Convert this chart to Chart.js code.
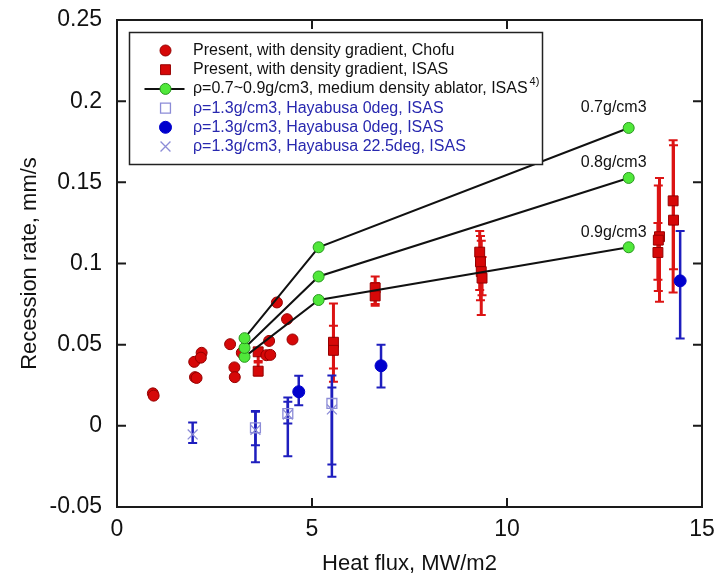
<!DOCTYPE html>
<html>
<head>
<meta charset="utf-8">
<script src="https://cdn.jsdelivr.net/npm/chart.js@4.4.1/dist/chart.umd.min.js"></script>
<style>
  html, body { margin: 0; padding: 0; background: #fff; }
  #wrap { width: 714px; height: 577px; position: relative; }
</style>
</head>
<body>
<div id="wrap"><canvas id="chart"></canvas></div>
<script>
// axis ticks
const xTicks = [0, 5, 10, 15];
const xTickLabels = ['0', '5', '10', '15'];
const yTicks = [-0.05, 0, 0.05, 0.1, 0.15, 0.2, 0.25];
const yTickLabels = ['-0.05', '0', '0.05', '0.1', '0.15', '0.2', '0.25'];

// Present, Chofu (red circles)
const chofuX = [0.92, 0.94, 1.98, 2.17, 2.15, 2.0, 2.04, 2.9, 3.01, 3.02, 3.2, 4.10, 4.36, 3.9, 3.83, 3.93, 4.5];
const chofuY = [0.020, 0.0186, 0.0394, 0.045, 0.042, 0.030, 0.0295, 0.0503, 0.036, 0.030, 0.045, 0.076, 0.0657, 0.0523, 0.0435, 0.0437, 0.0532];

// Present, ISAS (red squares + error bars)
const isasX = [3.62, 3.62, 5.55, 5.55, 6.62, 6.62, 9.30, 9.32, 9.34, 9.36, 13.91, 13.88, 13.87, 14.26, 14.27];
const isasY = [0.0456, 0.0337, 0.0515, 0.0465, 0.085, 0.080, 0.107, 0.101, 0.095, 0.091, 0.1165, 0.1144, 0.1068, 0.1386, 0.1267];
const isasLo = [0.040, 0.031, 0.0271, 0.0353, 0.075, 0.074, 0.0836, 0.0774, 0.0682, 0.0805, 0.0764, 0.083, 0.090, 0.0821, 0.0965];
const isasHi = [0.048, 0.039, 0.0754, 0.0616, 0.092, 0.088, 0.120, 0.117, 0.114, 0.104, 0.1527, 0.148, 0.125, 0.176, 0.1728];

// medium density ablator (green, connected)
const medX = [3.27, 5.17, 13.12];
const med07 = [0.054, 0.110, 0.1835];
const med08 = [0.048, 0.092, 0.1527];
const med09 = [0.0425, 0.0775, 0.110];
const densityNames = ['0.7g/cm3', '0.8g/cm3', '0.9g/cm3'];

// Hayabusa 0deg open squares
const hayaSqX = [3.55, 4.38, 5.51];
const hayaSqY = [-0.0012, 0.0076, 0.0138];
const hayaSqLo = [-0.0225, -0.0187, -0.0314];
const hayaSqHi = [0.0092, 0.0175, 0.031];

// Hayabusa 0deg filled circles
const hayaDotX = [4.66, 6.77, 14.44];
const hayaDotY = [0.021, 0.037, 0.0893];
const hayaDotLo = [0.0127, 0.0236, 0.0538];
const hayaDotHi = [0.0308, 0.050, 0.120];

// Hayabusa 22.5deg crosses
const hayaCrX = [1.94, 3.55, 4.38, 5.51];
const hayaCrY = [-0.0053, -0.0025, 0.0070, 0.0101];
const hayaCrLo = [-0.0105, -0.012, 0.0015, -0.0238];
const hayaCrHi = [0.002, 0.0087, 0.0148, 0.0236];

const pts = (xs, ys) => xs.map((v, i) => ({ x: v, y: ys[i] }));

const RED = 'rgb(214,8,8)';
const RED_EDGE = 'rgb(150,0,0)';
const GREEN = 'rgb(80,232,58)';
const GREEN_EDGE = 'rgb(40,150,30)';
const LAV = 'rgb(140,140,215)';
const BLUE = 'rgb(0,0,205)';
const BAR_BLUE = 'rgb(30,30,190)';
const TEXT_BLUE = 'rgb(40,40,175)';
const FONT = "'Liberation Sans', Arial, sans-serif";

Chart.defaults.font.family = FONT;

const datasets = [
  { label: 'Present, with density gradient, Chofu', data: pts(chofuX, chofuY),
    pointStyle: 'circle', pointRadius: 5.5, backgroundColor: RED, borderColor: RED_EDGE, borderWidth: 1,
    order: 3, legendRow: 0 },
  { label: 'Present, with density gradient, ISAS', data: pts(isasX, isasY),
    pointStyle: 'rect', pointRadius: 7, backgroundColor: RED, borderColor: RED_EDGE, borderWidth: 1,
    order: 3, legendRow: 1, errLo: isasLo, errHi: isasHi, errColor: 'rgb(220,20,20)', errWidth: 3 },
  { label: 'ρ=1.3g/cm3, Hayabusa 0deg, ISAS', data: pts(hayaSqX, hayaSqY),
    pointStyle: 'rect', pointRadius: 7, backgroundColor: 'rgba(0,0,0,0)', borderColor: LAV, borderWidth: 1.3,
    order: 2, legendRow: 3, errLo: hayaSqLo, errHi: hayaSqHi, errColor: BAR_BLUE, errWidth: 2.5 },
  { label: 'ρ=1.3g/cm3, Hayabusa 0deg, ISAS', data: pts(hayaDotX, hayaDotY),
    pointStyle: 'circle', pointRadius: 6, backgroundColor: BLUE, borderColor: BLUE, borderWidth: 1,
    order: 2, legendRow: 4, errLo: hayaDotLo, errHi: hayaDotHi, errColor: BAR_BLUE, errWidth: 2.5 },
  { label: 'ρ=1.3g/cm3, Hayabusa 22.5deg, ISAS', data: pts(hayaCrX, hayaCrY),
    pointStyle: 'crossRot', pointRadius: 7, backgroundColor: LAV, borderColor: LAV, borderWidth: 1.3,
    order: 2, legendRow: 5, errLo: hayaCrLo, errHi: hayaCrHi, errColor: BAR_BLUE, errWidth: 2.5 },
];
[med07, med08, med09].forEach((ys, k) => {
  datasets.push({ label: densityNames[k], data: pts(medX, ys), showLine: true,
    borderColor: '#111', borderWidth: 2, pointStyle: 'circle', pointRadius: 5.5,
    pointBackgroundColor: GREEN, pointBorderColor: GREEN_EDGE, pointBorderWidth: 1,
    order: 1, densityLabel: densityNames[k], legendRow: k === 0 ? 2 : undefined });
});
datasets[datasets.length - 3].label = 'ρ=0.7~0.9g/cm3, medium density ablator, ISAS';

// error bars drawn under the markers
const errorBars = {
  id: 'errorBars',
  beforeDatasetsDraw(chart) {
    const { ctx, scales: { x, y } } = chart;
    ctx.save();
    chart.data.datasets.forEach(ds => {
      if (!ds.errLo) return;
      ctx.strokeStyle = ds.errColor;
      ds.data.forEach((p, j) => {
        const px = x.getPixelForValue(p.x);
        const top = y.getPixelForValue(ds.errHi[j]);
        const bot = y.getPixelForValue(ds.errLo[j]);
        ctx.lineWidth = ds.errWidth;
        ctx.beginPath(); ctx.moveTo(px, top); ctx.lineTo(px, bot); ctx.stroke();
        ctx.lineWidth = 2;
        ctx.beginPath();
        ctx.moveTo(px - 4.5, top); ctx.lineTo(px + 4.5, top);
        ctx.moveTo(px - 4.5, bot); ctx.lineTo(px + 4.5, bot);
        ctx.stroke();
      });
    });
    ctx.restore();
  }
};

// box frame with inward ticks on all four sides, density labels, legend
const frame = {
  id: 'frame',
  afterDraw(chart) {
    const { ctx, chartArea: a, scales: { x, y } } = chart;
    ctx.save();
    ctx.strokeStyle = '#1a1a1a';
    ctx.lineWidth = 2;
    ctx.strokeRect(a.left, a.top, a.right - a.left, a.bottom - a.top);
    ctx.beginPath();
    xTicks.slice(1, -1).forEach(v => {
      const px = x.getPixelForValue(v);
      ctx.moveTo(px, a.bottom); ctx.lineTo(px, a.bottom - 9);
      ctx.moveTo(px, a.top); ctx.lineTo(px, a.top + 9);
    });
    yTicks.slice(1, -1).forEach(v => {
      const py = y.getPixelForValue(v);
      ctx.moveTo(a.left, py); ctx.lineTo(a.left + 9, py);
      ctx.moveTo(a.right, py); ctx.lineTo(a.right - 9, py);
    });
    ctx.stroke();

    // density labels above the last point of each line
    ctx.fillStyle = '#111';
    ctx.font = '16px ' + FONT;
    ctx.textAlign = 'center';
    ctx.textBaseline = 'middle';
    chart.data.datasets.forEach((ds, i) => {
      if (!ds.densityLabel) return;
      const last = chart.getDatasetMeta(i).data[ds.data.length - 1];
      ctx.fillText(ds.densityLabel, last.x - 15, last.y - (i === 5 ? 20 : 15));
    });

    // legend
    const L = a.left + 12.5, T = a.top + 12.5, W = 413, H = 132;
    ctx.fillStyle = '#fff';
    ctx.fillRect(L, T, W, H);
    ctx.strokeStyle = '#222';
    ctx.lineWidth = 1.5;
    ctx.strokeRect(L, T, W, H);
    ctx.textAlign = 'left';
    const rows = chart.data.datasets.filter(ds => ds.legendRow !== undefined)
      .sort((p, q) => p.legendRow - q.legendRow);
    rows.forEach(ds => {
      const r = ds.legendRow;
      const ry = T + 18 + r * 19.2;
      const mx = L + 36;
      if (ds.showLine) {
        ctx.strokeStyle = '#111'; ctx.lineWidth = 2;
        ctx.beginPath(); ctx.moveTo(L + 15, ry); ctx.lineTo(L + 55, ry); ctx.stroke();
        ctx.fillStyle = ds.pointBackgroundColor; ctx.strokeStyle = ds.pointBorderColor; ctx.lineWidth = 1;
      } else {
        ctx.fillStyle = ds.backgroundColor; ctx.strokeStyle = ds.borderColor; ctx.lineWidth = ds.borderWidth;
      }
      Chart.helpers.drawPoint(ctx, { pointStyle: ds.pointStyle, radius: ds.pointRadius, rotation: 0,
        borderWidth: ds.showLine ? 1 : ds.borderWidth }, mx, ry);
      ctx.fillStyle = r >= 3 ? TEXT_BLUE : '#111';
      ctx.font = '16px ' + FONT;
      ctx.textBaseline = 'middle';
      ctx.fillText(ds.label, L + 63.5, ry);
      if (r === 2) {
        const w = ctx.measureText(ds.label).width;
        ctx.font = '11px ' + FONT;
        ctx.fillText('4)', L + 63.5 + w + 2, ry - 7);
      }
    });
    ctx.restore();
  }
};

new Chart(document.getElementById('chart'), {
  type: 'scatter',
  data: { datasets },
  options: {
    responsive: true,
    maintainAspectRatio: false,
    animation: false,
    devicePixelRatio: 1,
    layout: { padding: { top: 20, right: 12, bottom: 0, left: 0 } },
    plugins: { legend: { display: false }, tooltip: { enabled: false } },
    scales: {
      x: {
        type: 'linear', min: 0, max: 15,
        afterBuildTicks: s => { s.ticks = xTicks.map(v => ({ value: v })); },
        afterFit: s => { s.height = 70; s.paddingLeft = 0; s.paddingRight = 0; },
        grid: { display: false, drawTicks: false },
        border: { display: false },
        ticks: { padding: 9, color: '#111', font: { size: 23 }, maxRotation: 0, autoSkip: false,
          callback: (v, i) => xTickLabels[i] },
        title: { display: true, text: 'Heat flux, MW/m2', color: '#111', font: { size: 22 }, padding: 0 }
      },
      y: {
        type: 'linear', min: -0.05, max: 0.25,
        afterBuildTicks: s => { s.ticks = yTicks.map(v => ({ value: v })); },
        afterFit: s => { s.width = 117; s.paddingTop = 0; s.paddingBottom = 0; },
        grid: { display: false, drawTicks: false },
        border: { display: false },
        ticks: { padding: 15, color: '#111', font: { size: 23 }, autoSkip: false,
          callback: (v, i) => yTickLabels[i] },
        title: { display: true, text: 'Recession rate, mm/s', color: '#111', font: { size: 22 },
          padding: { top: 17, bottom: 0 } }
      }
    }
  },
  plugins: [errorBars, frame]
});
</script>
</body>
</html>
